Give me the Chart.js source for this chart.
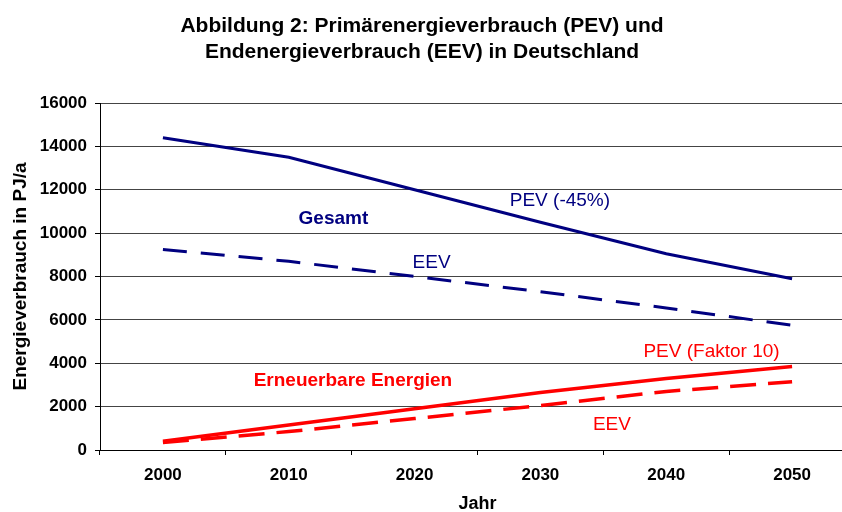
<!DOCTYPE html>
<html>
<head>
<meta charset="utf-8">
<script src="https://cdn.jsdelivr.net/npm/chart.js@4.4.1/dist/chart.umd.min.js"></script>
<style>
  html, body { margin: 0; padding: 0; background: #fff; overflow: hidden; width: 842px; height: 512px; }
  #title { position: absolute; left: 0; top: 12px; width: 844px; text-align: center;
           font: bold 21px "Liberation Sans", Arial, sans-serif; line-height: 25.5px; color: #000; }
  #wrap { position: absolute; left: 0; top: 0; width: 855px; height: 512px; }
</style>
</head>
<body>
<div id="wrap"><canvas id="c" width="855" height="512"></canvas></div>
<div id="title">Abbildung 2: Primärenergieverbrauch (PEV) und<br>Endenergieverbrauch (EEV) in Deutschland</div>
<script>
// ---- data ----
const categories = ['2000', '2010', '2020', '2030', '2040', '2050'];
const pevGesamt = [14400, 13500, 12000, 10500, 9050, 7900];
const eevGesamt = [9250, 8700, 8000, 7300, 6550, 5750];
const pevErneuerbar = [400, 1150, 1900, 2650, 3300, 3850];
const eevErneuerbar = [350, 850, 1450, 2050, 2700, 3150];
const yTicks = [0, 2000, 4000, 6000, 8000, 10000, 12000, 14000, 16000];

// text annotations placed in data coordinates (category index, value)
const annotations = [
  { text: 'Gesamt', x: 1.355, y: 10660, color: '#000080', bold: true },
  { text: 'PEV (-45%)', x: 3.155, y: 11490, color: '#000080', bold: false },
  { text: 'EEV', x: 2.135, y: 8640, color: '#000080', bold: false },
  { text: 'Erneuerbare Energien', x: 1.51, y: 3170, color: '#FF0000', bold: true },
  { text: 'PEV (Faktor 10)', x: 4.36, y: 4520, color: '#FF0000', bold: false },
  { text: 'EEV', x: 3.568, y: 1170, color: '#FF0000', bold: false }
];

const FONT = '"Liberation Sans", Arial, sans-serif';
Chart.defaults.font.family = FONT;
Chart.defaults.color = '#000';

const annotationPlugin = {
  id: 'textAnnotations',
  afterDatasetsDraw(chart) {
    const ctx = chart.ctx;
    const xs = chart.scales.x, ys = chart.scales.y;
    ctx.save();
    ctx.textAlign = 'center';
    ctx.textBaseline = 'middle';
    annotations.forEach(a => {
      ctx.font = (a.bold ? 'bold ' : '') + '19px ' + FONT;
      ctx.fillStyle = a.color;
      ctx.fillText(a.text, xs.getPixelForValue(a.x), ys.getPixelForValue(a.y));
    });
    ctx.restore();
  }
};

new Chart(document.getElementById('c'), {
  type: 'line',
  data: {
    labels: categories,
    datasets: [
      { label: 'PEV Gesamt', data: pevGesamt, borderColor: '#000080', borderWidth: 3, pointRadius: 0, tension: 0 },
      { label: 'EEV Gesamt', data: eevGesamt, borderColor: '#000080', borderWidth: 3, borderDash: [24, 14], pointRadius: 0, tension: 0 },
      { label: 'PEV Erneuerbare', data: pevErneuerbar, borderColor: '#FF0000', borderWidth: 3.5, pointRadius: 0, tension: 0 },
      { label: 'EEV Erneuerbare', data: eevErneuerbar, borderColor: '#FF0000', borderWidth: 3.5, borderDash: [26, 12], pointRadius: 0, tension: 0 }
    ]
  },
  options: {
    responsive: false,
    animation: false,
    layout: { padding: { top: 103, left: 0, right: 0, bottom: 0 } },
    plugins: { legend: { display: false }, tooltip: { enabled: false }, title: { display: false } },
    scales: {
      x: {
        type: 'category',
        offset: true,
        grid: { display: true, drawOnChartArea: false, drawTicks: true, tickLength: 5, offset: true, tickColor: '#000' },
        border: { display: true, color: '#000', width: 1 },
        ticks: { font: { size: 17, weight: 'bold' }, color: '#000', padding: 10, maxRotation: 0 },
        title: { display: true, text: 'Jahr', font: { size: 18, weight: 'bold', lineHeight: 1 }, color: '#000', padding: { top: 0, bottom: -1 } },
        afterFit(scale) { scale.height = 62; }
      },
      y: {
        min: 0, max: 16000,
        afterBuildTicks(scale) { scale.ticks = yTicks.map(v => ({ value: v })); },
        grid: { color: '#444', lineWidth: 1, tickLength: 5, tickColor: '#000' },
        border: { display: true, color: '#000', width: 1 },
        ticks: { font: { size: 17, weight: 'bold' }, color: '#000', padding: 8, callback: v => String(v) },
        title: { display: true, text: 'Energieverbrauch in PJ/a', font: { size: 19, weight: 'bold', lineHeight: 1.2 }, color: '#000', padding: { top: 9, bottom: 0 } },
        afterFit(scale) { scale.width = 100; }
      }
    }
  },
  plugins: [annotationPlugin]
});
</script>
</body>
</html>
